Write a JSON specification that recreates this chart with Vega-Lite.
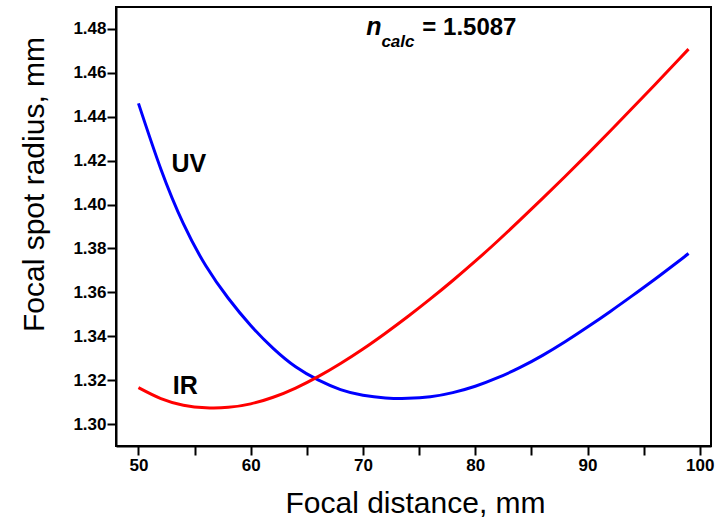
{
  "$schema": "https://vega.github.io/schema/vega-lite/v6.json",
  "width": 595,
  "height": 439,
  "autosize": {"type": "none"},
  "padding": {"left": 116, "top": 7, "right": 9, "bottom": 81},
  "background": "white",
  "config": {
    "view": {"stroke": "black", "strokeWidth": 2},
    "font": "Liberation Sans",
    "axis": {
      "grid": false,
      "domainColor": "black",
      "domainWidth": 2,
      "tickColor": "black",
      "tickWidth": 2,
      "labelFont": "Liberation Sans",
      "labelFontWeight": "bold",
      "labelFontSize": 17,
      "labelColor": "black",
      "titleFont": "Liberation Sans",
      "titleFontWeight": "normal",
      "titleFontSize": 30,
      "titleColor": "black"
    }
  },
  "datasets": {
    "curves": [
      {"series": "UV", "x": 50, "y": 1.4461},
      {"series": "UV", "x": 52, "y": 1.4161},
      {"series": "UV", "x": 54, "y": 1.3913},
      {"series": "UV", "x": 56, "y": 1.3721},
      {"series": "UV", "x": 58, "y": 1.3573},
      {"series": "UV", "x": 60, "y": 1.3449},
      {"series": "UV", "x": 62, "y": 1.3345},
      {"series": "UV", "x": 64, "y": 1.3261},
      {"series": "UV", "x": 66, "y": 1.3201},
      {"series": "UV", "x": 68, "y": 1.3157},
      {"series": "UV", "x": 70, "y": 1.3131},
      {"series": "UV", "x": 72, "y": 1.3119},
      {"series": "UV", "x": 74, "y": 1.3117},
      {"series": "UV", "x": 76, "y": 1.3124},
      {"series": "UV", "x": 78, "y": 1.3143},
      {"series": "UV", "x": 80, "y": 1.3172},
      {"series": "UV", "x": 82, "y": 1.3211},
      {"series": "UV", "x": 84, "y": 1.3258},
      {"series": "UV", "x": 86, "y": 1.3313},
      {"series": "UV", "x": 88, "y": 1.3375},
      {"series": "UV", "x": 90, "y": 1.3442},
      {"series": "UV", "x": 92, "y": 1.3512},
      {"series": "UV", "x": 94, "y": 1.3585},
      {"series": "UV", "x": 96, "y": 1.366},
      {"series": "UV", "x": 98, "y": 1.3737},
      {"series": "UV", "x": 99, "y": 1.3777},
      {"series": "IR", "x": 50, "y": 1.3166},
      {"series": "IR", "x": 52, "y": 1.3116},
      {"series": "IR", "x": 54, "y": 1.3086},
      {"series": "IR", "x": 56, "y": 1.3074},
      {"series": "IR", "x": 58, "y": 1.3076},
      {"series": "IR", "x": 60, "y": 1.3092},
      {"series": "IR", "x": 62, "y": 1.3122},
      {"series": "IR", "x": 64, "y": 1.3164},
      {"series": "IR", "x": 66, "y": 1.3216},
      {"series": "IR", "x": 68, "y": 1.3276},
      {"series": "IR", "x": 70, "y": 1.3342},
      {"series": "IR", "x": 72, "y": 1.3414},
      {"series": "IR", "x": 74, "y": 1.349},
      {"series": "IR", "x": 76, "y": 1.357},
      {"series": "IR", "x": 78, "y": 1.3654},
      {"series": "IR", "x": 80, "y": 1.3742},
      {"series": "IR", "x": 82, "y": 1.3834},
      {"series": "IR", "x": 84, "y": 1.393},
      {"series": "IR", "x": 86, "y": 1.4028},
      {"series": "IR", "x": 88, "y": 1.4128},
      {"series": "IR", "x": 90, "y": 1.423},
      {"series": "IR", "x": 92, "y": 1.4334},
      {"series": "IR", "x": 94, "y": 1.444},
      {"series": "IR", "x": 96, "y": 1.4546},
      {"series": "IR", "x": 98, "y": 1.4654},
      {"series": "IR", "x": 99, "y": 1.4708}
    ],
    "seriesLabels": [
      {"x": 52.94, "y": 1.4149, "label": "UV"},
      {"x": 53.05, "y": 1.3139, "label": "IR"}
    ],
    "nSymbol": [{"x": 70.3, "y": 1.4773, "label": "n"}],
    "nSub": [{"x": 71.64, "y": 1.4718, "label": "calc"}],
    "nValue": [{"x": 75.29, "y": 1.4773, "label": "= 1.5087"}]
  },
  "layer": [
    {
      "data": {"name": "curves"},
      "mark": {"type": "line", "strokeWidth": 3, "interpolate": "natural", "clip": true},
      "encoding": {
        "x": {
          "field": "x",
          "type": "quantitative",
          "scale": {"domain": [48, 101], "nice": false, "zero": false},
          "axis": {
            "title": "Focal distance, mm",
            "values": [50, 55, 60, 65, 70, 75, 80, 85, 90, 95, 100],
            "labelExpr": "datum.value % 10 === 0 ? format(datum.value, 'd') : ''",
            "tickSize": 9,
            "labelPadding": 2,
            "encoding": {
              "ticks": {"update": {"y2": {"signal": "datum.value % 10 === 0 ? -9 : -5"}}}
            },
            "titleX": 299,
            "titleY": 66,
            "titleBaseline": "alphabetic",
            "titleAlign": "center"
          }
        },
        "y": {
          "field": "y",
          "type": "quantitative",
          "scale": {"domain": [1.29, 1.49], "nice": false, "zero": false},
          "axis": {
            "title": "Focal spot radius, mm",
            "values": [1.3, 1.31, 1.32, 1.33, 1.34, 1.35, 1.36, 1.37, 1.38, 1.39, 1.4, 1.41, 1.42, 1.43, 1.44, 1.45, 1.46, 1.47, 1.48],
            "labelExpr": "round(datum.value * 100) % 2 === 0 ? format(datum.value, '.2f') : ''",
            "tickSize": 9,
            "labelPadding": 1,
            "encoding": {
              "ticks": {"update": {"x2": {"signal": "round(datum.value * 100) % 2 === 0 ? 9 : 5"}}}
            },
            "titleX": -73,
            "titleY": 177,
            "titleAngle": -90,
            "titleBaseline": "alphabetic",
            "titleAlign": "center"
          }
        },
        "color": {
          "field": "series",
          "type": "nominal",
          "scale": {"domain": ["UV", "IR"], "range": ["#0000ff", "#ff0000"]},
          "legend": null
        }
      }
    },
    {
      "data": {"name": "seriesLabels"},
      "mark": {"type": "text", "align": "left", "baseline": "alphabetic", "fontSize": 25, "fontWeight": "bold", "font": "Liberation Sans", "color": "black"},
      "encoding": {
        "x": {"field": "x", "type": "quantitative"},
        "y": {"field": "y", "type": "quantitative"},
        "text": {"field": "label"}
      }
    },
    {
      "data": {"name": "nSymbol"},
      "mark": {"type": "text", "align": "left", "baseline": "alphabetic", "fontSize": 25, "fontWeight": "bold", "fontStyle": "italic", "font": "Liberation Sans", "color": "black"},
      "encoding": {
        "x": {"field": "x", "type": "quantitative"},
        "y": {"field": "y", "type": "quantitative"},
        "text": {"field": "label"}
      }
    },
    {
      "data": {"name": "nSub"},
      "mark": {"type": "text", "align": "left", "baseline": "alphabetic", "fontSize": 17, "fontWeight": "bold", "fontStyle": "italic", "font": "Liberation Sans", "color": "black"},
      "encoding": {
        "x": {"field": "x", "type": "quantitative"},
        "y": {"field": "y", "type": "quantitative"},
        "text": {"field": "label"}
      }
    },
    {
      "data": {"name": "nValue"},
      "mark": {"type": "text", "align": "left", "baseline": "alphabetic", "fontSize": 24, "fontWeight": "bold", "font": "Liberation Sans", "color": "black"},
      "encoding": {
        "x": {"field": "x", "type": "quantitative"},
        "y": {"field": "y", "type": "quantitative"},
        "text": {"field": "label"}
      }
    }
  ]
}
